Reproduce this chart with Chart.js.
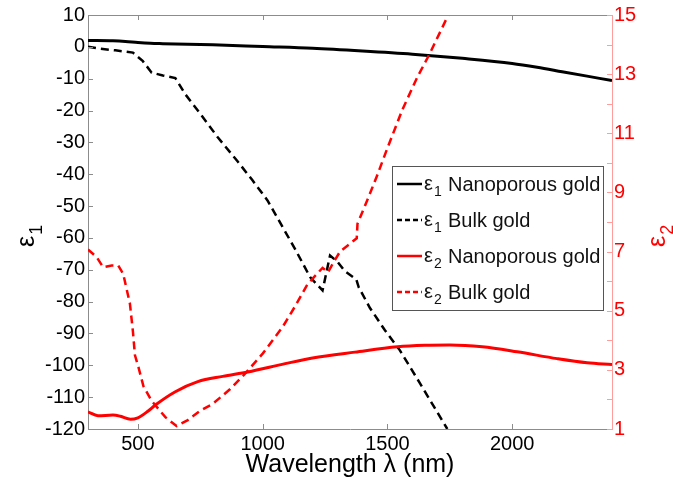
<!DOCTYPE html>
<html>
<head>
<meta charset="utf-8">
<script src="https://cdn.jsdelivr.net/npm/chart.js@4.4.0/dist/chart.umd.min.js"></script>
<style>
  html, body { margin: 0; padding: 0; background: #fff; }
  canvas { display: block; }
</style>
</head>
<body>
<canvas id="chart" width="673" height="482"></canvas>
<script>
// values: wavelength (nm) -> permittivity
const npE1Wl = [300, 400, 450, 500, 550, 600, 700, 800, 1000, 1200, 1400, 1600, 1800, 2000, 2100, 2200, 2300, 2400];
const npE1 = [2.0, 1.9, 1.7, 1.35, 1.1, 1.0, 0.85, 0.65, 0.1, -0.45, -1.3, -2.3, -3.6, -5.2, -6.4, -7.8, -9.2, -10.6];

const bulkE1Wl = [300, 350, 410, 480, 520, 555, 600, 650, 690, 750, 820, 900, 960, 1020, 1080, 1130, 1190, 1240, 1270, 1300, 1330, 1375, 1385, 1430, 1490, 1550, 1630, 1740];
const bulkE1 = [0, -0.6, -1.1, -1.8, -4.5, -8.1, -9.0, -9.8, -14.9, -21.0, -28.4, -36.0, -42.0, -48.3, -56.6, -63.5, -72.3, -76.5, -65.5, -67.5, -70.5, -73.0, -75.5, -82.0, -89.0, -95.3, -105.6, -120.0];

const npE2Wl = [300, 340, 400, 430, 470, 500, 540, 570, 650, 740, 840, 940, 1090, 1200, 1370, 1540, 1650, 1750, 1880, 2020, 2180, 2300, 2400];
const npE2 = [1.58, 1.45, 1.47, 1.43, 1.33, 1.38, 1.6, 1.81, 2.26, 2.6, 2.78, 2.93, 3.21, 3.4, 3.6, 3.78, 3.83, 3.84, 3.78, 3.61, 3.38, 3.24, 3.18];

const bulkE2Wl = [300, 335, 361, 395, 421, 441, 468, 480, 488, 502, 522, 555, 610, 655, 700, 750, 800, 870, 936, 1000, 1080, 1130, 1180, 1240, 1262, 1285, 1310, 1377, 1380, 1420, 1460, 1500, 1560, 1620, 1670, 1744, 1755];
const bulkE2 = [7.07, 6.81, 6.47, 6.53, 6.53, 6.25, 5.24, 4.3, 3.5, 3.1, 2.45, 1.95, 1.4, 1.1, 1.3, 1.62, 1.85, 2.35, 2.93, 3.55, 4.45, 5.15, 5.9, 6.45, 6.3, 6.65, 7.0, 7.45, 7.94, 8.75, 9.6, 10.5, 11.8, 12.9, 13.7, 15.0, 15.3];

const xTicks = [500, 1000, 1500, 2000];
const leftTicks = [-120, -110, -100, -90, -80, -70, -60, -50, -40, -30, -20, -10, 0, 10];
const rightTicks = [1, 2, 3, 4, 5, 6, 7, 8, 9, 10, 11, 12, 13, 14, 15];

const legendRows = [
	{ sub: "1", name: "Nanoporous gold", color: "#000", dash: [] },
	{ sub: "1", name: "Bulk gold", color: "#000", dash: [5, 3] },
	{ sub: "2", name: "Nanoporous gold", color: "#ff0000", dash: [] },
	{ sub: "2", name: "Bulk gold", color: "#ff0000", dash: [5, 3] },
];

const FONT = "'Liberation Sans', Arial, sans-serif";
const RED = "#ff0000";
const GREY = "#8c8c8c";
const PINK = "#ff9c9c";

const toPoints = (xs, ys) => xs.map((x, i) => ({ x: x, y: ys[i] }));

// epsilon with a subscript digit, drawn from the current origin
const drawEps = (ctx, sub, size, color) => {
	ctx.fillStyle = color;
	ctx.textAlign = "left";
	ctx.textBaseline = "alphabetic";
	ctx.font = size + "px " + FONT;
	ctx.fillText("\u03b5", 0, 0);
	const w = ctx.measureText("\u03b5").width;
	ctx.font = Math.round(size * 0.7) + "px " + FONT;
	ctx.fillText(sub, w + 1, size * 0.3);
	return w + 1 + ctx.measureText(sub).width;
};

// inward ticks, box top, axis titles and legend, MATLAB style
const matlabDecor = {
	id: "matlabDecor",
	afterDatasetsDraw(chart) {
		const ctx = chart.ctx;
		const a = chart.chartArea;
		const x = chart.scales.x, y = chart.scales.y, y2 = chart.scales.y2;
		ctx.save();
		ctx.lineWidth = 1;
		ctx.strokeStyle = GREY;
		ctx.beginPath();
		ctx.moveTo(a.left, a.top + 0.5);
		ctx.lineTo(a.right, a.top + 0.5);
		xTicks.forEach((v) => {
			const px = Math.round(x.getPixelForValue(v)) + 0.5;
			ctx.moveTo(px, a.bottom);
			ctx.lineTo(px, a.bottom - 5);
			ctx.moveTo(px, a.top);
			ctx.lineTo(px, a.top + 5);
		});
		leftTicks.forEach((v) => {
			const py = Math.round(y.getPixelForValue(v)) + 0.5;
			ctx.moveTo(a.left, py);
			ctx.lineTo(a.left + 5, py);
		});
		ctx.stroke();
		ctx.strokeStyle = PINK;
		ctx.beginPath();
		rightTicks.forEach((v) => {
			const py = Math.round(y2.getPixelForValue(v)) + 0.5;
			ctx.moveTo(a.right, py);
			ctx.lineTo(a.right - 5, py);
		});
		ctx.stroke();

		// axis titles
		ctx.fillStyle = "#000";
		ctx.font = "25px " + FONT;
		ctx.textAlign = "center";
		ctx.textBaseline = "middle";
		ctx.fillText("Wavelength \u03bb (nm)", (a.left + a.right) / 2, 465);

		ctx.save();
		ctx.translate(34, 247);
		ctx.rotate(-Math.PI / 2);
		drawEps(ctx, "1", 25, "#000");
		ctx.restore();

		ctx.save();
		ctx.translate(665, 247);
		ctx.rotate(-Math.PI / 2);
		drawEps(ctx, "2", 25, RED);
		ctx.restore();

		// legend
		const lx = 392, ly = 166, lw = 211, lh = 144;
		ctx.fillStyle = "#fff";
		ctx.fillRect(lx, ly, lw, lh);
		ctx.strokeStyle = "#555";
		ctx.strokeRect(lx + 0.5, ly + 0.5, lw, lh);
		legendRows.forEach((r, i) => {
			const cy = 184 + i * 36;
			ctx.strokeStyle = r.color;
			ctx.lineWidth = 2.5;
			ctx.setLineDash(r.dash);
			ctx.beginPath();
			ctx.moveTo(397, cy);
			ctx.lineTo(422, cy);
			ctx.stroke();
			ctx.setLineDash([]);
			ctx.save();
			ctx.translate(424, cy + 6);
			drawEps(ctx, r.sub, 20, "#111");
			ctx.restore();
			ctx.fillStyle = "#111";
			ctx.font = "20px " + FONT;
			ctx.textAlign = "left";
			ctx.textBaseline = "alphabetic";
			ctx.fillText(r.name, 448, cy + 7);
		});
		ctx.restore();
	},
};

const setTicks = (list) => (scale) => {
	scale.ticks = list.map((v) => ({ value: v }));
};

new Chart(document.getElementById("chart").getContext("2d"), {
	type: "line",
	data: {
		datasets: [
			{
				data: toPoints(npE2Wl, npE2),
				yAxisID: "y2",
				borderColor: RED,
				borderWidth: 3,
				cubicInterpolationMode: "monotone",
			},
			{
				data: toPoints(bulkE2Wl, bulkE2),
				yAxisID: "y2",
				borderColor: RED,
				borderWidth: 2.5,
				borderDash: [8, 5],
				tension: 0,
			},
			{
				data: toPoints(bulkE1Wl, bulkE1),
				yAxisID: "y",
				borderColor: "#000",
				borderWidth: 2.5,
				borderDash: [8, 5],
				tension: 0,
			},
			{
				data: toPoints(npE1Wl, npE1),
				yAxisID: "y",
				borderColor: "#000",
				borderWidth: 3,
				cubicInterpolationMode: "monotone",
			},
		],
	},
	options: {
		responsive: false,
		animation: false,
		devicePixelRatio: 1,
		layout: { padding: { top: 14, left: 0, right: 0, bottom: 0 } },
		elements: { point: { radius: 0 } },
		plugins: {
			legend: { display: false },
			tooltip: { enabled: false },
		},
		scales: {
			x: {
				type: "linear",
				min: 300,
				max: 2400,
				afterBuildTicks: setTicks(xTicks),
				afterFit: (s) => { s.height = 53; },
				grid: { drawOnChartArea: false, drawTicks: false },
				border: { color: GREY },
				ticks: {
					color: "#000",
					padding: 3,
					font: { family: FONT, size: 20 },
					maxRotation: 0,
					callback: (v) => String(v),
				},
			},
			y: {
				position: "left",
				min: -120,
				max: 10,
				afterBuildTicks: setTicks(leftTicks),
				afterFit: (s) => { s.width = 88; },
				grid: { drawOnChartArea: false, drawTicks: false },
				border: { color: GREY },
				ticks: { color: "#000", padding: 3, font: { family: FONT, size: 20 } },
			},
			y2: {
				position: "right",
				min: 1,
				max: 15,
				afterBuildTicks: setTicks(rightTicks),
				afterFit: (s) => { s.width = 61; },
				grid: { drawOnChartArea: false, drawTicks: false },
				border: { color: PINK },
				ticks: {
					color: RED,
					padding: 2,
					font: { family: FONT, size: 20 },
					autoSkip: false,
					callback: (v) => (v % 2 === 1 ? v : ""),
				},
			},
		},
	},
	plugins: [matlabDecor],
});
</script>
</body>
</html>
